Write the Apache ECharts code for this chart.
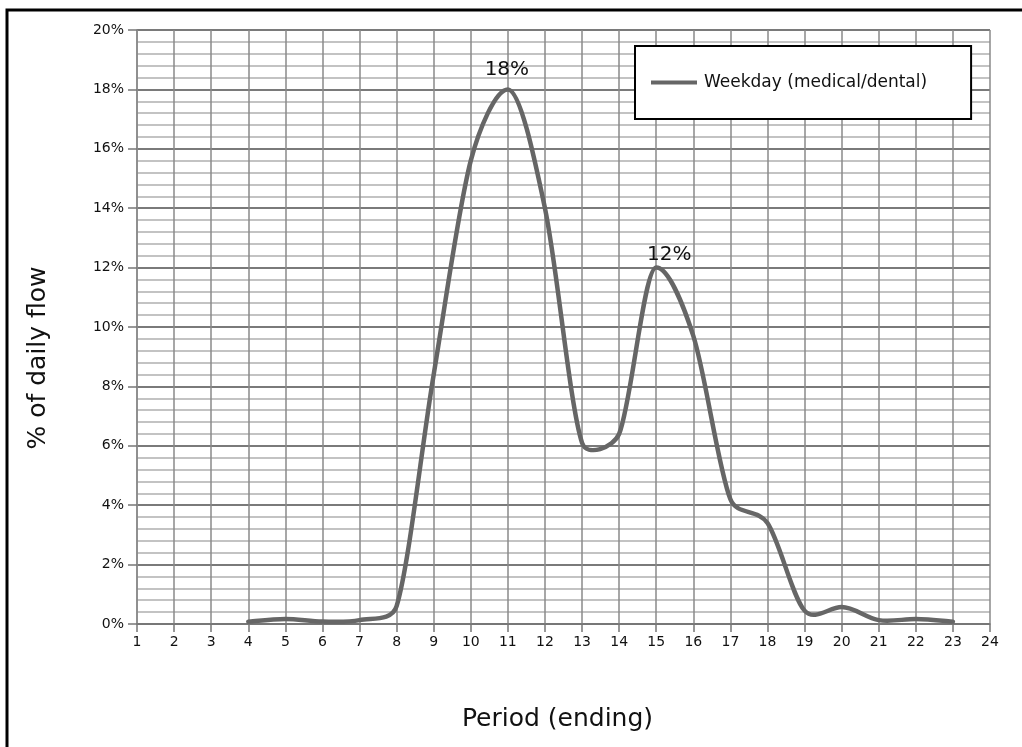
<!DOCTYPE html>
<html>
<head>
<meta charset="utf-8">
<title>Weekday (medical/dental) hourly profile</title>
<script src="https://cdn.jsdelivr.net/npm/echarts@6/dist/echarts.min.js"></script>
<style>
  html, body { margin: 0; padding: 0; background: #fff; }
  #chart { width: 1022px; height: 747px; }
</style>
</head>
<body>
<div id="chart"></div>
<script>
// Share of daily flow by period (hour ending)
const periods = [4, 5, 6, 7, 8, 9, 10, 11, 12, 13, 14, 15, 16, 17, 18, 19, 20, 21, 22, 23];
const shares  = [0.08, 0.17, 0.08, 0.13, 0.6, 8.4, 15.6, 18, 14, 6.1, 6.4, 12, 9.7, 4.2, 3.4, 0.45, 0.57, 0.13, 0.17, 0.08];
const labelledPeriods = [11, 15];
const seriesName = 'Weekday (medical/dental)';

const FONT = '"DejaVu Sans", Verdana, sans-serif';
const LINE_COLOR = '#666';

// Smooth path through the projected points: Catmull-Rom style tangents,
// flat at local peaks, handles limited by the neighbouring segment length.
function smoothPath(pts, vals) {
  const n = pts.length;
  const tan = pts.map((p, i) => {
    if (i === 0) return [(pts[1][0] - p[0]) / 2, (pts[1][1] - p[1]) / 2];
    if (i === n - 1) return [(p[0] - pts[i - 1][0]) / 2, (p[1] - pts[i - 1][1]) / 2];
    const a = pts[i - 1], b = pts[i + 1];
    if (vals[i] >= vals[i - 1] && vals[i] >= vals[i + 1]) {
      return [(b[0] - a[0]) / 2, 0];
    }
    return [(b[0] - a[0]) / 2, (b[1] - a[1]) / 2];
  });
  const handle = (t, segLen) => {
    let hx = t[0] / 3, hy = t[1] / 3;
    const len = Math.hypot(hx, hy);
    const lim = segLen * 0.4;
    if (len > lim && len > 0) { hx *= lim / len; hy *= lim / len; }
    return [hx, hy];
  };
  let d = 'M' + pts[0][0] + ' ' + pts[0][1];
  for (let i = 0; i < n - 1; i++) {
    const p0 = pts[i], p1 = pts[i + 1];
    const seg = Math.hypot(p1[0] - p0[0], p1[1] - p0[1]);
    const h0 = handle(tan[i], seg);
    const h1 = handle(tan[i + 1], seg);
    d += ' C' + (p0[0] + h0[0]) + ' ' + (p0[1] + h0[1]) + ' ' +
         (p1[0] - h1[0]) + ' ' + (p1[1] - h1[1]) + ' ' + p1[0] + ' ' + p1[1];
  }
  return d;
}

const curveData = periods.map((p, i) => [p, shares[i]]);

const labelData = periods.map((p, i) => {
  const item = { value: [p, shares[i]] };
  if (labelledPeriods.includes(p)) {
    item.label = {
      show: true,
      position: 'top',
      distance: p === 15 ? 3 : 10,
      offset: p === 15 ? [13, 0] : [-1, 0],
      formatter: (prm) => Math.round(prm.value[1]) + '%',
      fontFamily: FONT,
      fontSize: 20,
      color: '#111'
    };
  }
  return item;
});

const chart = echarts.init(document.getElementById('chart'), null, { renderer: 'canvas' });

chart.setOption({
  backgroundColor: '#fff',
  animation: false,
  graphic: [{
    type: 'rect',
    shape: { x: 7, y: 10, width: 1040, height: 760 },
    style: { fill: 'none', stroke: '#000', lineWidth: 3 },
    silent: true,
    z: 100
  }],
  grid: { left: 137, right: 32, top: 30, bottom: 123 },
  legend: {
    left: 635,
    top: 46,
    orient: 'horizontal',
    backgroundColor: '#fff',
    borderColor: '#000',
    borderWidth: 2,
    padding: [28, 44, 28, 16],
    itemWidth: 46,
    itemHeight: 4,
    icon: 'rect',
    itemGap: 5,
    textStyle: { fontFamily: FONT, fontSize: 17, color: '#111', padding: [0, 0, 0, 2] },
    data: [{ name: seriesName, itemStyle: { color: LINE_COLOR } }]
  },
  xAxis: {
    type: 'value',
    min: 1,
    max: 24,
    interval: 1,
    name: 'Period (ending)',
    nameLocation: 'middle',
    nameGap: 83,
    nameTextStyle: { fontFamily: FONT, fontSize: 25, color: '#111', padding: [0, 12, 0, 0] },
    axisLine: { show: true, lineStyle: { color: '#777', width: 1.5 } },
    axisTick: { show: true, length: 8, lineStyle: { color: '#777', width: 1.5 } },
    axisLabel: { fontFamily: FONT, fontSize: 14, color: '#111', margin: 11 },
    splitLine: { show: true, lineStyle: { color: '#8a8a8a', width: 1.5 } }
  },
  yAxis: {
    type: 'value',
    min: 0,
    max: 20,
    interval: 2,
    name: '% of daily flow',
    nameLocation: 'middle',
    nameRotate: 90,
    nameGap: 86,
    nameTextStyle: { fontFamily: FONT, fontSize: 25, color: '#111', padding: [0, 62, 0, 0] },
    axisLine: { show: true, lineStyle: { color: '#888', width: 1.5 } },
    axisTick: { show: true, length: 9, lineStyle: { color: '#777', width: 1.5 } },
    axisLabel: { fontFamily: FONT, fontSize: 14, color: '#111', margin: 13, formatter: '{value}%' },
    splitLine: { show: true, lineStyle: { color: '#7a7a7a', width: 2 } },
    minorTick: { show: false, splitNumber: 5 },
    minorSplitLine: { show: true, lineStyle: { color: '#b0b0b0', width: 1.5 } }
  },
  series: [
    {
      // the smoothed curve, drawn once from all projected points
      name: seriesName,
      type: 'custom',
      coordinateSystem: 'cartesian2d',
      color: LINE_COLOR,
      encode: { x: 0, y: 1 },
      data: curveData,
      z: 5,
      renderItem: (params, api) => {
        if (params.dataIndex !== 0) return null;
        const pts = curveData.map((d) => api.coord(d));
        return {
          type: 'path',
          silent: true,
          shape: { pathData: smoothPath(pts, shares) },
          style: { fill: 'none', stroke: LINE_COLOR, lineWidth: 4.5, lineJoin: 'round', lineCap: 'round' }
        };
      }
    },
    {
      // peak value labels
      name: seriesName,
      type: 'line',
      data: labelData,
      color: LINE_COLOR,
      symbol: 'circle',
      symbolSize: 0.1,
      showSymbol: true,
      itemStyle: { color: 'rgba(0,0,0,0)' },
      lineStyle: { opacity: 0 },
      z: 6
    }
  ]
});
</script>
</body>
</html>
